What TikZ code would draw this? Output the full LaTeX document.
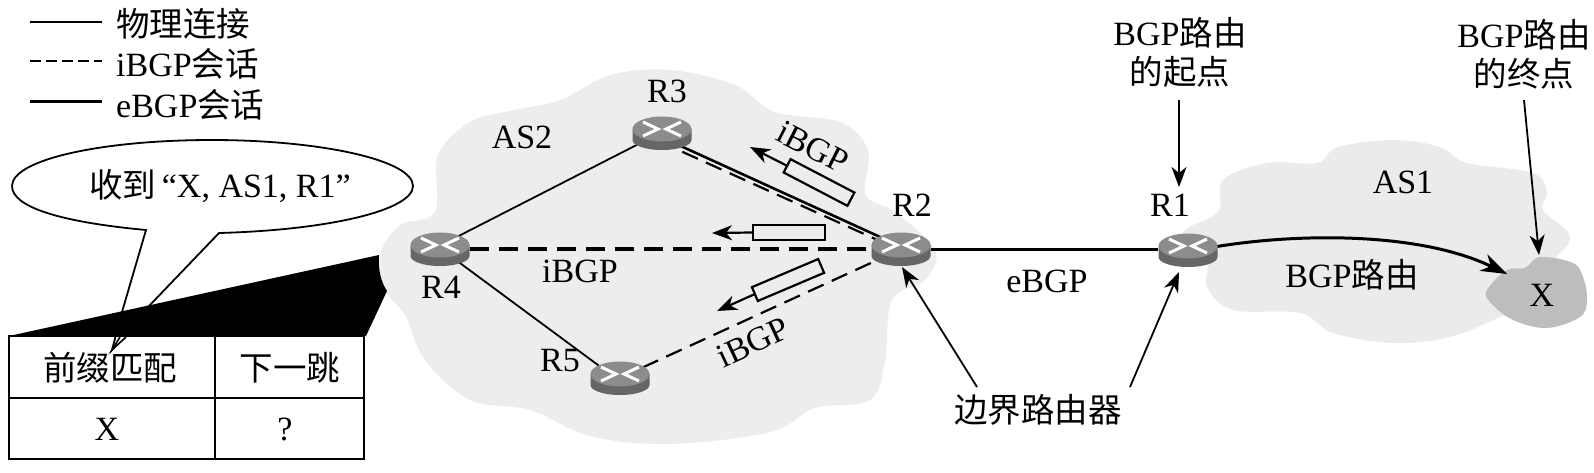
\documentclass[tikz,border=0pt]{standalone}
\usepackage{fontspec}
\setmainfont{Liberation Serif}
\newfontfamily\cjk{Noto Sans CJK SC}
\usetikzlibrary{arrows.meta,shapes.geometric}
\tikzset{
  lbl/.style={inner sep=0pt,font=\fontsize{34}{38}\selectfont,align=center},
  thinline/.style={line width=1.8pt},
  thickline/.style={line width=3pt},
  sess/.style={line width=3.2pt,dash pattern=on 19pt off 10pt},
  sessthin/.style={line width=2.2pt,dash pattern=on 17pt off 9pt},
  bigarrow/.style={-{Stealth[length=20pt,width=15pt,inset=6pt]},line width=1.8pt},
  msg/.style={draw,line width=2.2pt,fill=none,minimum width=72pt,minimum height=15pt,inner sep=0pt},
  rnode/.style={ellipse,inner sep=0pt,minimum width=59pt,minimum height=32pt},
}
\newcommand{\zh}[1]{{\cjk\fontsize{33.5}{38}\selectfont #1}}
\newcommand{\routerdraw}[2]{%
  \begin{scope}[shift={(#1,#2)}]
    \fill[black!60] (-29.5,-4) -- (-29.5,7) arc[start angle=180,end angle=0,x radius=29.5,y radius=10] -- (29.5,-4) -- cycle;
    \fill[black!45] (0,-4) ellipse[x radius=29.5,y radius=12.5];
    \draw[white,line width=3pt] (-19,-11) -- (-4,-4) -- (-19,3) (19,-11) -- (4,-4) -- (19,3);
  \end{scope}}
\begin{document}
\begin{tikzpicture}[x=1pt,y=-1pt]
\useasboundingbox (0,0) rectangle (1594,472);
% clouds
\fill[black!7] plot[smooth cycle,tension=0.6] coordinates {
 (380,255) (400,225) (435,212) (438,155) (470,122) (505,112) (560,100) (610,75) (670,70) (735,85) (775,112) (840,122) (868,150) (866,195) (895,212) (935,250) (925,280) (892,300) (885,360) (870,400) (815,408) (770,432) (670,444) (590,436) (530,410) (470,400) (425,360) (405,315) (385,290)};
\fill[black!8] plot[smooth cycle,tension=0.6] coordinates {
 (1183,233) (1218,212) (1223,180) (1267,163) (1317,163) (1338,147) (1393,140) (1440,147) (1467,163) (1533,173) (1547,193) (1543,210) (1570,237) (1550,265) (1535,300) (1500,317) (1450,337) (1393,343) (1333,333) (1300,313) (1233,310) (1207,287) (1207,262)};
\fill[black!26] plot[smooth cycle,tension=0.6] coordinates {
 (1487,290) (1507,270) (1525,268) (1540,257) (1573,263) (1583,277) (1587,300) (1580,317) (1547,328) (1513,320) (1490,302)};
% callout
\draw[line width=1.8pt,fill=white] (146,230) .. controls (60,222) and (12,207) .. (12,186) .. controls (12,160) and (100,140) .. (212,140) .. controls (320,140) and (413,160) .. (413,186) .. controls (413,210) and (330,230) .. (219,233) -- (150,305) -- (112,350) -- (122,312) -- cycle;
\fill (9,336) -- (379,255) .. controls (378,270) and (381,282) .. (387,291) -- (366,336) -- cycle;
% table
\draw[line width=2.2pt] (9,336) rectangle (364,459) (215,336) -- (215,459) (9,398) -- (364,398);
\draw[line width=1.6pt,fill=white] (120,337) -- (112,350) -- (126,337);
\node[lbl] (t1) at (110,368) {\zh{前缀匹配}};
\node[lbl] (t2) at (290,368) {\zh{下一跳}};
\node[lbl] (t3) at (107,429) {X};
\node[lbl] (t4) at (285,429) {?};
\node[lbl] (said) at (220,186) {\zh{收到}\,“X, AS1, R1”};
% legend
\coordinate (la1) at (30,22); \coordinate (la2) at (102,22);
\coordinate (lb1) at (30,61); \coordinate (lb2) at (102,61);
\coordinate (lc1) at (30,101); \coordinate (lc2) at (102,101);
\draw[thinline] (la1) -- (la2);
\draw[line width=1.8pt,dash pattern=on 11pt off 5pt] (lb1) -- (lb2);
\draw[thickline] (lc1) -- (lc2);
\node[lbl,anchor=west] (l1) at (116,24) {\zh{物理连接}};
\node[lbl,anchor=west] (l2) at (116,64) {iBGP\zh{会话}};
\node[lbl,anchor=west] (l3) at (116,105) {eBGP\zh{会话}};
% routers
\node[rnode] (R1) at (1188,249) {};
\node[rnode] (R2) at (901,249) {};
\node[rnode] (R3) at (662,133) {};
\node[rnode] (R4) at (440,249) {};
\node[rnode] (R5) at (620,378) {};
\coordinate (Xc) at (1507,274);
% connectors
\draw[thinline] (R4.35) -- (R3.205);
\draw[thinline] (R4.-35) -- (R5.150);
\draw[line width=2.6pt] (R3.-35) -- (R2.150);
\draw[sessthin] ([xshift=2pt,yshift=-6pt]R3.-35) -- ([xshift=4pt,yshift=-6pt]R2.150);
\draw[sess] (R4) -- (R2);
\draw[sessthin] (R5.25) -- (R2.205);
\draw[thickline] (R2) -- (R1);
\draw[thickline,-{Stealth[length=26pt,width=18pt,inset=8pt]}] (R1.5) .. controls (1300,233) and (1420,232) .. (Xc);
\foreach \x/\y in {662/133,901/249,1188/250,440/249,620/378}{\routerdraw{\x}{\y}}
% messages
\node[msg,rotate=-27.6] (m1) at (819,182.5) {};
\node[msg] (m2) at (789,232.5) {};
\node[msg,rotate=23] (m3) at (788,280) {};
\coordinate (m1t) at (750,147); \coordinate (m2t) at (712,233); \coordinate (m3t) at (717,311);
\draw[bigarrow,line width=2.2pt] (m1.west) -- (m1t);
\draw[bigarrow,line width=2.2pt] (m2.west) -- (m2t);
\draw[bigarrow,line width=2.2pt] (m3.west) -- (m3t);
% labels
\node[lbl] (as2) at (522,137) {AS2};
\node[lbl] (r3l) at (667,91) {R3};
\node[lbl] (r2l) at (912,205) {R2};
\node[lbl] (r1l) at (1170,205) {R1};
\node[lbl] (r4l) at (441,287) {R4};
\node[lbl] (r5l) at (560,361) {R5};
\node[lbl,rotate=-27] (i1) at (813,147) {iBGP};
\node[lbl] (i2) at (580,271) {iBGP};
\node[lbl,rotate=25] (i3) at (753,342) {iBGP};
\node[lbl] (e1) at (1047,281) {eBGP};
\node[lbl] (as1) at (1403,182) {AS1};
\node[lbl] (route) at (1352,275) {BGP\zh{路由}};
\node[lbl] (X) at (1542,295) {X};
\node[lbl] (src) at (1180,52) {BGP\zh{路由}\\[1pt]\zh{的起点}};
\node[lbl] (dst) at (1524,54) {BGP\zh{路由}\\[1pt]\zh{的终点}};
\node[lbl] (edge) at (1038,410) {\zh{边界路由器}};
% pointers
\coordinate (s1) at (1179,100); \coordinate (s2) at (1179,187);
\draw[bigarrow] (s1) -- (s2);
\coordinate (d1) at (1524,100); \coordinate (d2) at (1539,255);
\draw[bigarrow] (d1) -- (d2);
\coordinate (e1a) at (977,387); \coordinate (e2) at (902,267);
\coordinate (e3a) at (1130,387); \coordinate (e3) at (1179,272);
\draw[bigarrow] (e1a) -- (e2);
\draw[bigarrow] (e3a) -- (e3);
\end{tikzpicture}
\end{document}
